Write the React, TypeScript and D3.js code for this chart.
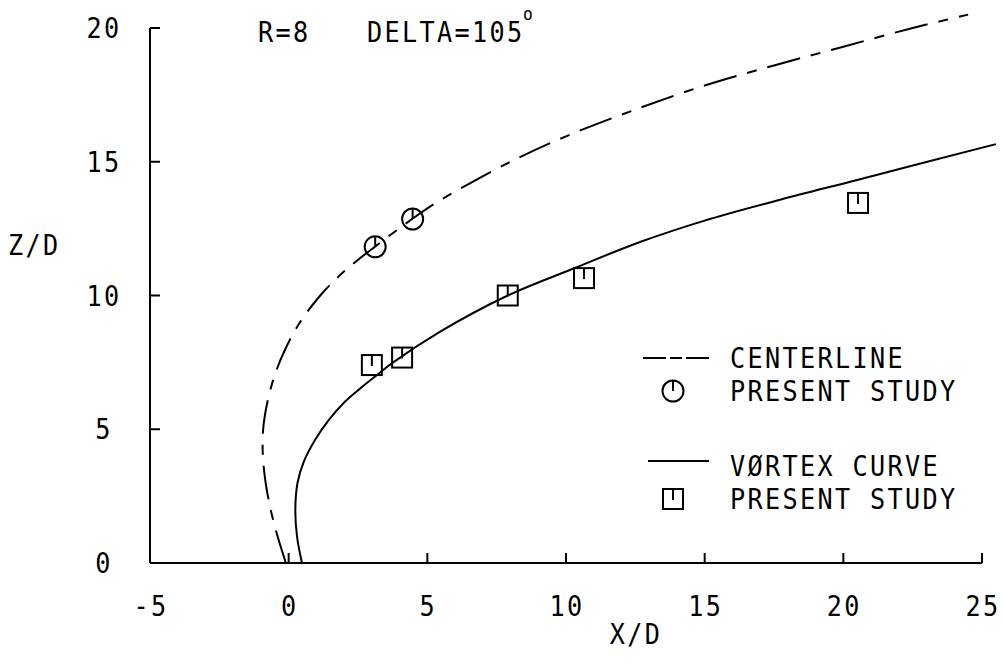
import React from 'react';
import * as d3 from 'd3';

const xTicks = [-5, 0, 5, 10, 15, 20, 25];
const yTicks = [0, 5, 10, 15, 20];

const centerX = [-0.1, -0.4, -0.65, -0.83, -0.93, -0.92, -0.77, -0.51, -0.12, 0.41, 1.14, 1.79, 2.46, 3.08, 4.45, 5.3, 6.2, 8, 10, 12.5, 15, 17.5, 20, 22.5, 24.5];
const centerZ = [0, 1, 2, 3, 4, 5, 6, 7, 8, 9, 10, 10.7, 11.3, 11.8, 12.86, 13.46, 14.0, 15.0, 15.95, 16.95, 17.85, 18.6, 19.3, 20.0, 20.5];

const vortexX = [0.48, 0.3, 0.24, 0.32, 0.55, 0.95, 1.45, 2.0, 2.55, 3.15, 3.73, 5.45, 7.9, 10.25, 12.67, 15, 17.72, 20.5, 25.5];
const vortexZ = [0, 1, 2, 3, 3.8, 4.6, 5.35, 6.0, 6.5, 7.0, 7.47, 8.64, 10.0, 11.0, 12.0, 12.8, 13.58, 14.32, 15.66];

const circleX = [3.12, 4.47];
const circleZ = [11.82, 12.86];

const squareX = [3.0, 4.09, 7.9, 10.65, 20.53];
const squareZ = [7.4, 7.68, 10.0, 10.65, 13.46];

const legendLabels = ['CENTERLINE', 'PRESENT STUDY', 'VØRTEX CURVE', 'PRESENT STUDY'];

const FONT = '"DejaVu Sans Mono", monospace';
const SX = 0.9;

function Txt({ x, y, anchor = 'start', size = 28, ls = 2.6, children }: any) {
  return (
    <text
      transform={`translate(${x},${y}) scale(${SX},1)`}
      textAnchor={anchor}
      style={{ fontFamily: FONT, fontSize: size, letterSpacing: ls, fill: '#000' }}
    >
      {children}
    </text>
  );
}

export default function App() {
  const x = d3.scaleLinear().domain([-5, 25]).range([150, 982]);
  const y = d3.scaleLinear().domain([0, 20]).range([563, 28]);

  const line = d3
    .line<[number, number]>()
    .x((d) => x(d[0]))
    .y((d) => y(d[1]))
    .curve(d3.curveCatmullRom.alpha(0.5));

  const centerPts: [number, number][] = centerX.map((v, i) => [v, centerZ[i]]);
  const vortexPts: [number, number][] = vortexX.map((v, i) => [v, vortexZ[i]]);

  const circleMarker = (cx: number, cy: number, key: string) => (
    <g key={key}>
      <circle cx={cx} cy={cy} r={10.5} fill="none" stroke="#000" strokeWidth={2} />
      <line x1={cx} y1={cy - 10.5} x2={cx} y2={cy} stroke="#000" strokeWidth={2} />
    </g>
  );
  const squareMarker = (cx: number, cy: number, key: string) => (
    <g key={key}>
      <rect x={cx - 10} y={cy - 10} width={20} height={20} fill="none" stroke="#000" strokeWidth={2} />
      <line x1={cx} y1={cy - 10} x2={cx} y2={cy + 1} stroke="#000" strokeWidth={2} />
    </g>
  );

  const C = 10; // half cap height for vertical centering

  return (
    <svg width={1004} height={666} style={{ position: 'absolute', left: 0, top: 0, background: '#fff' }}>
      <rect x={0} y={0} width={1004} height={666} fill="#fff" />
      {/* axes */}
      <line x1={x(-5)} y1={y(0)} x2={x(25)} y2={y(0)} stroke="#000" strokeWidth={2} />
      <line x1={x(-5)} y1={y(0)} x2={x(-5)} y2={y(20)} stroke="#000" strokeWidth={2} />
      {yTicks.map((t) => (
        <g key={'yt' + t}>
          <line x1={x(-5)} y1={y(t)} x2={x(-5) + 10} y2={y(t)} stroke="#000" strokeWidth={2} />
          <Txt x={104} y={y(t) + C} anchor="middle">
            {t}
          </Txt>
        </g>
      ))}
      {xTicks.map((t) => (
        <g key={'xt' + t}>
          <line x1={x(t)} y1={y(0)} x2={x(t)} y2={y(0) - 10} stroke="#000" strokeWidth={2} />
          <Txt x={x(t) + 1} y={606 + C} anchor="middle">
            {t}
          </Txt>
        </g>
      ))}
      <Txt x={636} y={634 + C} anchor="middle">
        X/D
      </Txt>
      <Txt x={8} y={245 + C}>Z/D</Txt>
      <Txt x={258} y={32 + C}>R=8</Txt>
      <Txt x={367} y={32 + C}>DELTA=105</Txt>
      <Txt x={523} y={20} size={18} ls={0}>
        o
      </Txt>

      {/* curves */}
      <path d={line(centerPts) || ''} fill="none" stroke="#000" strokeWidth={2} strokeDasharray="34 11 10 11" />
      <path d={line(vortexPts) || ''} fill="none" stroke="#000" strokeWidth={2} />

      {circleX.map((v, i) => circleMarker(x(v), y(circleZ[i]), 'c' + i))}
      {squareX.map((v, i) => squareMarker(x(v), y(squareZ[i]), 's' + i))}

      {/* legend */}
      <line x1={643} y1={358} x2={709} y2={358} stroke="#000" strokeWidth={2} strokeDasharray="23 4 12 4" />
      <Txt x={730} y={358 + C}>{legendLabels[0]}</Txt>
      {circleMarker(673, 391, 'lc')}
      <Txt x={730} y={391 + C}>{legendLabels[1]}</Txt>
      <line x1={648} y1={461} x2={709} y2={461} stroke="#000" strokeWidth={2} />
      <Txt x={730} y={466 + C}>{legendLabels[2]}</Txt>
      {squareMarker(673, 499, 'ls')}
      <Txt x={730} y={499 + C}>{legendLabels[3]}</Txt>
    </svg>
  );
}
